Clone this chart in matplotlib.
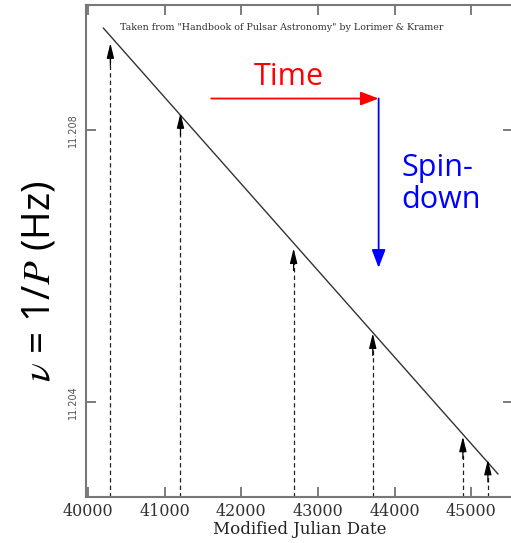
import matplotlib
matplotlib.use("Agg")
import matplotlib.pyplot as plt

# Data
mjd_points = [40293, 41207, 42682, 43714, 44889, 45215]
nu_points = [11.20928, 11.20825, 11.20626, 11.20501, 11.20349, 11.20315]
fit_mjd = [40202, 45346]
fit_nu = [11.20950, 11.20294]
xticks = [40000, 41000, 42000, 43000, 44000, 45000]
yticks = [11.204, 11.208]
ytick_labels = ["11.204", "11.208"]

plt.rcParams['mathtext.fontset'] = 'stix'

fig = plt.figure(figsize=(5.11, 5.43), dpi=100)
ax = fig.add_axes([0.1683, 0.0847, 0.836, 0.906])
ax.set_xlim(39975, 45545)
ax.set_ylim(11.2026, 11.20984)

ax.plot(fit_mjd, fit_nu, color='#333333', lw=1.0)

ymin = ax.get_ylim()[0]
for x, y in zip(mjd_points, nu_points):
    ax.vlines(x, ymin, y - 0.00018, colors='#222222', linestyles=(0, (3.5, 2.5)), lw=0.9)
    ax.annotate('', xy=(x, y), xytext=(0, -16), textcoords='offset points',
                arrowprops=dict(arrowstyle='-|>,head_length=0.9,head_width=0.22',
                                color='black', lw=0.9, shrinkA=0, shrinkB=0))

for s in ax.spines.values():
    s.set_color('#777777')
    s.set_linewidth(1.5)

ax.set_xticks(xticks)
ax.set_xticklabels([str(t) for t in xticks], family='DejaVu Serif', fontsize=11.5, color='#333333')
ax.set_yticks(yticks)
ax.set_yticklabels(ytick_labels, rotation=90, va='center', fontsize=7, color='#555555')
ax.tick_params(direction='in', length=7, width=1.2, color='#666666', top=True, right=True)
ax.tick_params(axis='x', pad=4)
ax.tick_params(axis='y', pad=6)
ax.set_xlabel('Modified Julian Date', family='DejaVu Serif', fontsize=12, color='#222222', labelpad=1)

ax.text(0.08, 0.955, 'Taken from "Handbook of Pulsar Astronomy" by Lorimer & Kramer',
        transform=ax.transAxes, family='DejaVu Serif', fontsize=6.8, color='#333333', va='center')

# Annotation arrows
ax.annotate('', xy=(0.685, 0.81), xytext=(0.293, 0.81), xycoords='axes fraction',
            arrowprops=dict(arrowstyle='-|>,head_length=1.1,head_width=0.42', color='red', lw=1.3,
                            shrinkA=0, shrinkB=0))
ax.annotate('', xy=(0.685, 0.466), xytext=(0.685, 0.81), xycoords='axes fraction',
            arrowprops=dict(arrowstyle='-|>,head_length=1.1,head_width=0.42', color='blue', lw=1.3,
                            shrinkA=0, shrinkB=0))
fig.text(289/511, 1 - 77/543, 'Time', color='red', fontsize=22, family='Open Sans',
         ha='center', va='center')
fig.text(401/511, 1 - 184/543, 'Spin-\ndown', color='blue', fontsize=22, family='Open Sans',
         ha='left', va='center', linespacing=1.1)

fig.text(40/511, 1 - 281/543, r'$\nu$ = 1/$P$ (Hz)', rotation=90, fontsize=28,
         family='Open Sans', ha='center', va='center')

fig.savefig('out.png', dpi=100)
